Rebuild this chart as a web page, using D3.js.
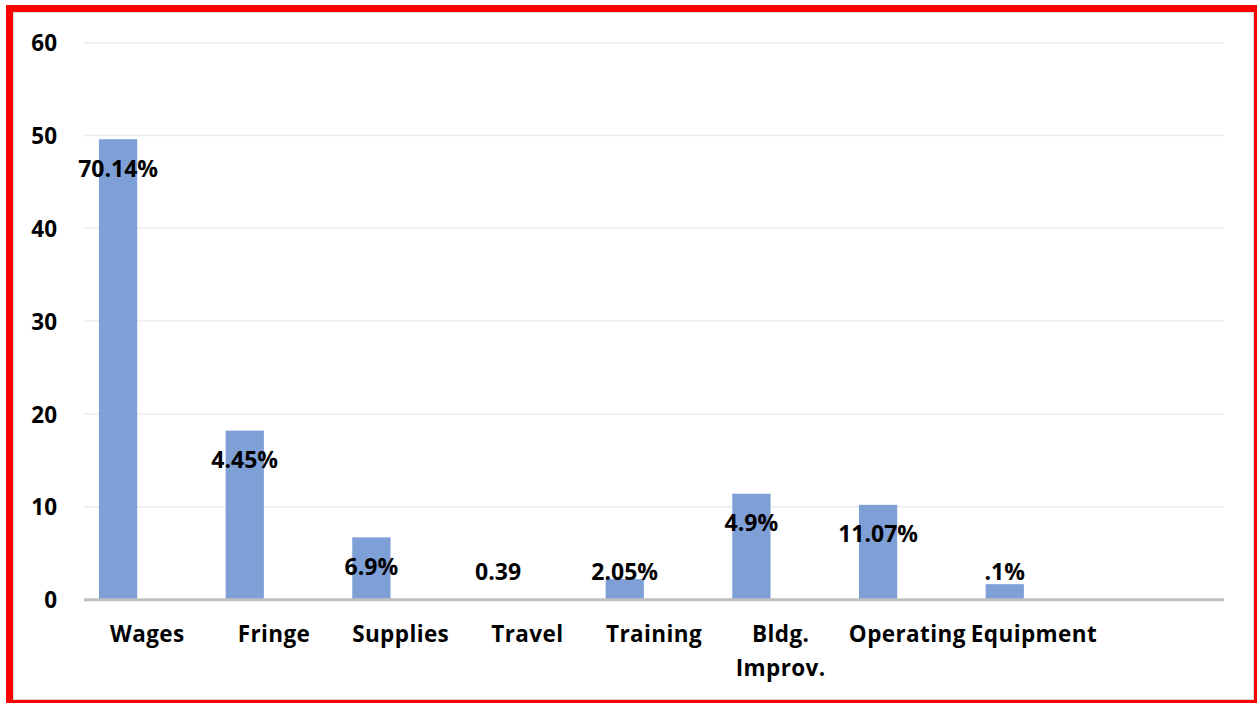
<!DOCTYPE html>
<html><head><meta charset="utf-8">
<script src="https://cdn.jsdelivr.net/npm/d3@7"></script>
<style>
html,body{margin:0;padding:0;background:#fff;}
svg{display:block;}
text{font-family:"Open Sans",sans-serif;font-weight:700;fill:#000;}
</style></head><body>
<svg id="chart" width="1257" height="703"></svg>
<script>
const categories = ["Wages","Fringe","Supplies","Travel","Training","Bldg.\nImprov.","Operating","Equipment",""];
const values = [49.6, 18.2, 6.7, 0, 2.2, 11.4, 10.2, 1.65, null];
const dataLabels = ["70.14%","4.45%","6.9%","0.39","2.05%","4.9%","11.07%",".1%",null];
const yTicks = [0,10,20,30,40,50,60];

const svg = d3.select("#chart");
const W = 1257, H = 703;

// outer frame
svg.append("rect").attr("x",0).attr("y",0).attr("width",W).attr("height",H).attr("fill","#fff");
svg.append("path")
  .attr("d", `M6,5 H1257 V703 H6 Z M13,12 V700 H1254 V12 Z`)
  .attr("fill","#ff0000").attr("fill-rule","evenodd");
svg.append("rect").attr("x",13.5).attr("y",12.5).attr("width",1240).attr("height",687)
  .attr("fill","none").attr("stroke","#d9d9d9").attr("stroke-width",1);

const plot = {left:84, right:1224, top:42.7, bottom:599.5};
const x = d3.scaleBand().domain(d3.range(categories.length)).range([plot.left, plot.right]).padding(0);
const y = d3.scaleLinear().domain([0,60]).range([plot.bottom, plot.top]);

// gridlines
svg.append("g").selectAll("line").data(yTicks.filter(t=>t>0)).join("line")
  .attr("x1",plot.left).attr("x2",plot.right)
  .attr("y1",d=>y(d)).attr("y2",d=>y(d))
  .attr("stroke","#ececec").attr("stroke-width",1.5);

// y axis labels
const yAxis = d3.axisLeft(y).tickValues(yTicks).tickSize(0).tickPadding(0);
const gy = svg.append("g").attr("transform",`translate(57,0)`).call(yAxis);
gy.select(".domain").remove();
gy.selectAll("text").attr("font-size",22.5).attr("font-family","Open Sans").attr("font-weight",700).attr("fill","#000").attr("dy","0.36em");

// bars
const bw = x.bandwidth();
const barOff = bw*0.118, barW = bw*0.302;
const idx = d3.range(categories.length).filter(i=>values[i]!==null);
svg.append("g").selectAll("rect").data(idx).join("rect")
  .attr("x",i=>x(i)+barOff)
  .attr("width",barW)
  .attr("y",i=>y(values[i]))
  .attr("height",i=>y(0)-y(values[i]))
  .attr("fill","#7f9fd7");

// x axis line
svg.append("line").attr("x1",plot.left).attr("x2",plot.right)
  .attr("y1",y(0)+0.3).attr("y2",y(0)+0.3).attr("stroke","#bfbfbf").attr("stroke-width",3);

// category labels
const gx = svg.append("g");
categories.forEach((c,i)=>{
  if(!c) return;
  const t = gx.append("text").attr("text-anchor","middle").attr("font-size",22.5)
    .attr("letter-spacing",0.4)
    .attr("x",x(i)+bw/2).attr("y",642);
  c.split("\n").forEach((line,k)=>{
    t.append("tspan").attr("x",x(i)+bw/2).attr("dy",k===0?0:34).text(line);
  });
});

// data labels
svg.append("g").selectAll("text").data(idx).join("text")
  .attr("text-anchor","middle").attr("font-size",23)
  .attr("x",i=>x(i)+barOff+barW/2)
  .attr("y",i=>Math.min(y(values[i])+37.5, 580))
  .text(i=>dataLabels[i]);
</script>
</body></html>
